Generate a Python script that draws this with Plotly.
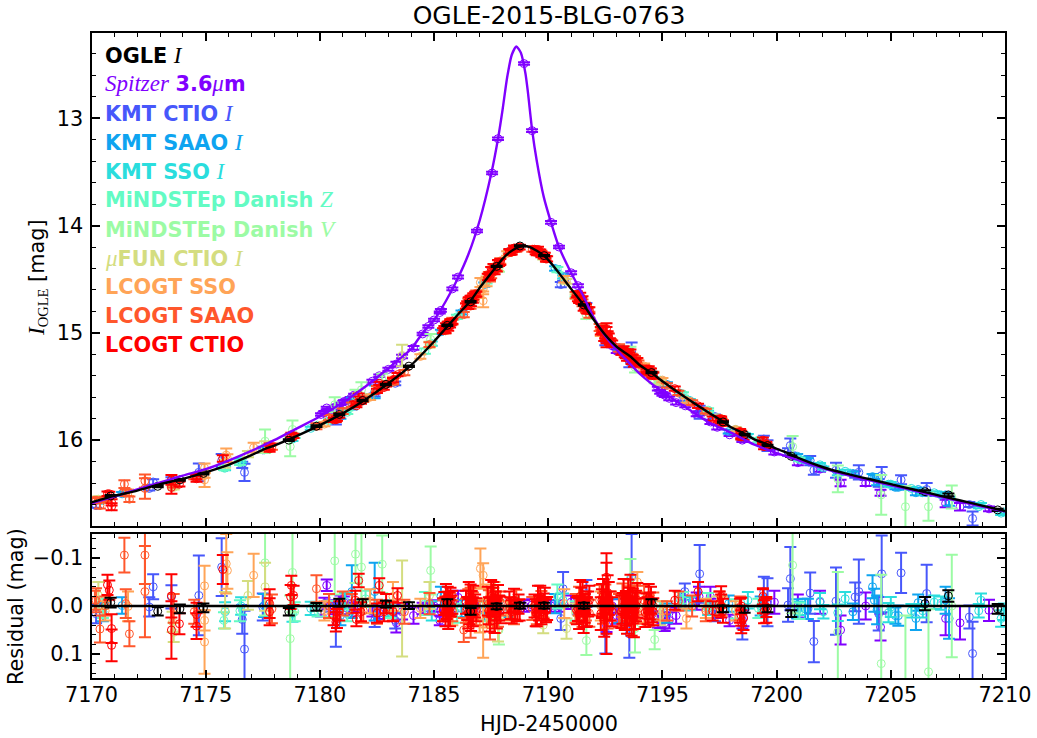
import plotly.graph_objects as go
from plotly.subplots import make_subplots

# Model curves
ogle_model_t = [7170,7171,7172,7173,7174,7175,7176,7177,7177.5,7178,7179,7180,7181,7182,7183,7184,7185,7185.5,7186,7186.6,7187,7187.7,7188,7188.3,7188.6,7188.9,7189.2,7189.5,7189.8,7190,7190.5,7191,7191.55,7192,7192.5,7193,7193.6,7194,7194.5,7195,7196,7197,7197.6,7198,7198.6,7199,7199.6,7200,7200.6,7201,7202,7203,7204,7205,7206,7207,7208,7209,7210]
ogle_model_mag = [16.58,16.52,16.47,16.41,16.36,16.30,16.23,16.14,16.09,16.05,15.96,15.86,15.75,15.62,15.47,15.30,15.08,14.96,14.84,14.70,14.58,14.39,14.31,14.25,14.21,14.19,14.20,14.235,14.28,14.32,14.45,14.59,14.74,14.88,15.02,15.13,15.22,15.30,15.37,15.45,15.60,15.74,15.82,15.88,15.94,15.99,16.04,16.08,16.13,16.17,16.25,16.31,16.36,16.41,16.46,16.51,16.56,16.61,16.66]
spitzer_model_t = [7170,7172,7174,7175,7176,7177,7178,7179,7180,7181,7182,7183,7183.5,7184,7184.5,7185,7185.5,7186,7186.5,7187,7187.5,7187.8,7188,7188.2,7188.4,7188.6,7188.8,7189,7189.1,7189.3,7189.5,7189.8,7190.12,7190.47,7191,7191.3,7191.5,7192,7192.5,7193,7193.5,7194,7195,7196,7197,7198,7199,7200,7201,7202,7203,7204,7205,7206,7207,7208,7209,7210]
spitzer_model_mag = [16.59,16.46,16.33,16.27,16.19,16.10,16.00,15.89,15.78,15.65,15.50,15.33,15.24,15.15,15.00,14.88,14.71,14.51,14.27,13.95,13.52,13.19,12.92,12.62,12.41,12.33,12.39,12.58,12.74,13.12,13.40,13.73,13.97,14.20,14.44,14.56,14.64,14.86,15.03,15.16,15.27,15.38,15.55,15.69,15.83,15.93,16.04,16.12,16.19,16.26,16.32,16.37,16.42,16.47,16.52,16.57,16.62,16.665]

# Data sets: time, magnitude, residual, error
spitzer_t = [7180.05,7180.2,7180.3,7180.45,7180.6,7180.75,7180.9,7181.05,7181.2,7181.35,7181.5,7182.3,7182.6,7183.0,7183.35,7183.6,7184.1,7184.5,7184.75,7185.0,7185.25,7185.3,7185.8,7186.05,7186.88,7187.54,7187.8,7188.94,7189.29,7190.12,7190.47,7191.0,7191.3,7192.55,7192.8,7193.0,7194.8,7194.9,7195.0,7195.1,7195.3,7195.6,7196.0,7196.5,7196.6,7197.1,7197.4,7197.94,7198.5,7198.55,7199.9,7200.93,7201.9,7202.8,7203.9,7204.55,7207.4,7208.03,7209.3]
spitzer_mag = [15.76,15.74,15.70,15.72,15.70,15.68,15.66,15.64,15.63,15.61,15.58,15.45,15.40,15.34,15.29,15.22,15.14,15.01,14.94,14.88,14.81,14.79,14.59,14.48,14.05,13.51,13.19,12.49,13.115,13.97,14.20,14.44,14.56,15.07,15.12,15.17,15.52,15.55,15.57,15.58,15.61,15.65,15.68,15.76,15.75,15.83,15.88,15.95,16.00,15.99,16.11,16.21,16.27,16.40,16.40,16.49,16.59,16.62,16.64]
spitzer_res = [0.01,-0.005,-0.043,0.0,0.005,0.0,-0.01,-0.008,0.005,0.01,0.0,0.01,0.015,0.01,0.035,0.012,0.02,0.005,0.005,0.0,0.03,0.01,0.0,-0.018,0.0,-0.002,0.002,0.0,-0.002,0.0,0.0,-0.008,0.005,0.04,0.0,0.02,0.028,0.03,0.03,0.035,0.03,0.02,-0.005,-0.01,-0.02,-0.02,0.005,0.03,0.03,0.025,-0.008,0.0,-0.008,0.05,0.0,0.044,0.026,0.035,0.009]
spitzer_err = [0.012,0.012,0.012,0.012,0.012,0.012,0.012,0.012,0.012,0.012,0.012,0.012,0.012,0.014,0.02,0.016,0.017,0.012,0.012,0.012,0.01,0.012,0.012,0.014,0.012,0.012,0.012,0.012,0.012,0.012,0.012,0.014,0.014,0.014,0.014,0.017,0.017,0.017,0.017,0.017,0.017,0.017,0.014,0.018,0.02,0.02,0.02,0.012,0.017,0.017,0.024,0.024,0.024,0.03,0.028,0.028,0.035,0.035,0.022]

kmt_ctio_t = [7170.2,7172.53,7172.7,7173.5,7174.7,7175.7,7176.6,7176.7,7177.5,7180.7,7182.4,7183.3,7190.55,7190.65,7191.67,7192.5,7193.55,7193.65,7195.98,7196.63,7197.3,7198.5,7199.44,7199.6,7200.5,7200.6,7201.47,7201.63,7202.6,7203.44,7203.6,7204.47,7204.6,7205.45,7206.57,7208.44,7208.58]
kmt_ctio_mag = [16.61,16.45,16.39,16.37,16.30,16.19,16.23,16.30,16.09,15.81,15.58,15.47,14.55,14.48,14.75,15.07,15.27,15.18,15.62,15.74,15.78,15.97,15.99,16.05,16.11,16.05,16.19,16.28,16.28,16.32,16.30,16.40,16.33,16.37,16.46,16.60,16.73]
kmt_ctio_res = [0.016,0.002,-0.04,-0.019,-0.022,-0.081,0.028,0.09,0.002,0.04,0.03,0.03,0.026,-0.036,-0.026,0.054,0.058,-0.06,-0.03,-0.067,0.012,0.04,-0.03,-0.008,-0.002,-0.057,-0.027,0.074,-0.01,-0.019,-0.03,0.016,-0.067,-0.069,-0.026,0.023,0.099]
kmt_ctio_err = [0.02,0.02,0.026,0.024,0.083,0.06,0.03,0.08,0.028,0.045,0.014,0.017,0.024,0.035,0.028,0.045,0.05,0.09,0.017,0.06,0.02,0.03,0.031,0.05,0.035,0.066,0.043,0.043,0.07,0.03,0.067,0.035,0.08,0.042,0.06,0.024,0.066]

kmt_saao_t = [7170.5,7171.34,7177.56,7180.9,7181.4,7182.4,7185.3,7186.2,7187.2,7188.3,7190.3,7193.1,7195.2,7197.9,7199.3,7200.9,7201.25,7201.37,7203.34,7204.2,7204.28,7204.4,7205.2,7205.33,7206.1,7206.2,7207.4,7207.55]
kmt_saao_mag = [16.56,16.50,16.09,15.78,15.66,15.55,14.99,14.81,14.55,14.24,14.40,15.14,15.48,15.92,16.02,16.15,16.18,16.19,16.31,16.34,16.35,16.39,16.44,16.44,16.49,16.46,16.51,16.57]
kmt_saao_res = [0.012,-0.001,-0.001,0.02,-0.03,-0.03,-0.02,0.005,0.01,0.006,-0.005,0.01,0.015,-0.005,0.0,0.006,0.006,0.006,0.012,-0.04,-0.012,0.008,0.02,0.02,0.026,-0.007,-0.012,0.026]
kmt_saao_err = [0.02,0.017,0.024,0.02,0.055,0.06,0.02,0.018,0.02,0.017,0.02,0.025,0.02,0.017,0.02,0.02,0.021,0.021,0.017,0.024,0.024,0.03,0.017,0.021,0.024,0.017,0.028,0.042]

kmt_sso_t = [7175.85,7176.55,7178.8,7179.6,7181.1,7183.0,7184.9,7190.65,7195.76,7196.2,7197.0,7198.74,7201.0,7201.9,7202.05,7202.68,7203.0,7204.9,7205.0,7205.9,7206.4,7206.9,7207.2,7208.85,7208.95,7209.83,7209.95]
kmt_sso_mag = [16.26,16.19,15.99,15.89,15.73,15.47,15.10,14.48,15.56,15.63,15.74,15.96,16.18,16.23,16.26,16.31,16.29,16.41,16.41,16.45,16.49,16.49,16.51,16.62,16.60,16.68,16.67]
kmt_sso_res = [0.012,0.0,0.016,0.005,-0.01,0.005,0.01,-0.012,-0.015,-0.005,0.005,-0.012,0.005,-0.01,0.012,0.014,-0.015,0.014,0.002,0.01,0.01,-0.008,-0.006,0.01,-0.012,0.026,0.012]
kmt_sso_err = [0.02,0.018,0.017,0.014,0.017,0.017,0.02,0.014,0.014,0.014,0.014,0.017,0.014,0.017,0.014,0.017,0.014,0.02,0.021,0.014,0.014,0.014,0.014,0.014,0.014,0.017,0.017]

danish_z_t = [7170.5,7175.8,7176.5,7178.9,7179.9,7180.4,7181.2,7182.0,7183.1,7184.6,7186.0,7187.3,7188.5,7190.4,7191.2,7193.4,7194.9,7195.9,7197.0,7198.2,7199.2,7201.0]
danish_z_mag = [16.56,16.26,16.21,15.96,15.86,15.82,15.74,15.60,15.46,15.17,14.85,14.52,14.21,14.41,14.64,15.18,15.44,15.57,15.72,15.90,16.00,16.18]
danish_z_res = [0.005,0.03,0.01,0.012,0.01,0.006,0.015,-0.015,0.01,-0.005,0.015,0.012,-0.006,-0.02,0.01,0.0,0.01,-0.012,-0.01,0.006,0.005,0.01]
danish_z_err = [0.02,0.017,0.022,0.02,0.012,0.017,0.017,0.017,0.015,0.024,0.02,0.02,0.012,0.025,0.02,0.03,0.02,0.017,0.017,0.02,0.02,0.017]

danish_v_t = [7177.6,7178.7,7178.8,7180.65,7181.56,7181.82,7182.73,7184.85,7187.84,7191.67,7193.6,7193.8,7194.66,7200.7,7202.68,7204.58,7205.64,7206.65,7207.67]
danish_v_mag = [16.01,16.06,15.90,15.67,15.59,15.53,15.44,15.06,14.40,14.84,15.17,15.32,15.45,16.06,16.36,16.51,16.62,16.62,16.53]
danish_v_res = [-0.09,0.068,-0.07,-0.094,-0.108,-0.081,-0.087,-0.074,0.05,0.072,-0.058,0.047,0.07,-0.085,0.054,0.12,0.21,0.137,0.0]
danish_v_err = [0.11,0.09,0.083,0.07,0.06,0.07,0.06,0.05,0.03,0.03,0.04,0.05,0.02,0.1,0.125,0.185,0.19,0.13,0.107]

mufun_t = [7170.3,7173.55,7173.6,7175.85,7176.85,7177.6,7183.6,7184.8,7187.66,7187.8,7189.78,7190.8,7191.2,7194.9,7197.4]
mufun_mag = [16.55,16.41,16.44,16.22,16.13,16.06,15.21,15.11,14.38,14.40,14.30,14.52,14.66,15.46,15.79]
mufun_res = [-0.022,0.033,0.055,0.009,-0.022,-0.04,0.005,-0.022,-0.036,0.05,0.04,0.047,0.015,0.02,0.0]
mufun_err = [0.028,0.021,0.02,0.038,0.03,0.05,0.1,0.028,0.014,0.024,0.017,0.021,0.02,0.02,0.02]

lcogt_sso_t = [7170.6,7171.6,7174.95,7174.95,7174.95,7175.9,7175.95,7177.1,7180.2,7182.2,7183.2,7184.4,7185.8,7187.03,7187.15,7187.15,7187.3,7187.0,7188.2,7190.7,7192.3,7193.9,7194.2,7196.05,7195.0,7196.9,7197.6,7198.2]
lcogt_sso_mag = [16.55,16.49,16.26,16.33,16.37,16.14,16.17,16.07,15.85,15.60,15.44,15.22,14.89,14.53,14.59,14.70,14.52,14.64,14.26,14.50,15.00,15.26,15.31,15.63,15.44,15.73,15.82,15.90]
lcogt_sso_res = [0.01,0.001,-0.042,0.03,0.075,-0.088,-0.074,-0.064,0.01,-0.01,-0.02,0.005,0.01,-0.078,-0.064,0.047,0.0,0.02,0.01,-0.005,0.0,-0.05,0.01,0.026,0.01,0.005,0.0,0.01]
lcogt_sso_err = [0.02,0.031,0.042,0.021,0.066,0.062,0.038,0.045,0.02,0.025,0.03,0.02,0.03,0.042,0.025,0.061,0.045,0.035,0.02,0.03,0.03,0.021,0.025,0.021,0.02,0.02,0.02,0.02]

lcogt_saao_t = [7170.15,7170.2,7170.37,7170.6,7171.44,7171.5,7171.66,7172.34,7172.34,7173.6,7174.5,7177.9,7179.85,7180.4,7181.0,7181.4,7181.9,7182.5,7183.2,7183.7,7184.8,7185.4,7185.5,7185.6,7185.7,7185.8,7186.3,7186.4,7186.5,7186.6,7186.6,7186.7,7186.85,7187.45,7187.4,7187.5,7187.6,7187.7,7187.8,7187.9,7188.3,7188.5,7188.6,7189.3,7189.5,7189.7,7189.9,7191.2,7191.35,7191.5,7191.65,7191.8,7192.25,7192.4,7192.5,7192.6,7192.75,7193.1,7193.25,7193.4,7193.5,7193.65,7193.8,7193.95,7194.2,7194.4,7194.6,7195.2,7195.7,7196.3,7196.9,7197.5,7198.4]
lcogt_saao_mag = [16.56,16.56,16.61,16.55,16.41,16.49,16.55,16.38,16.45,16.41,16.34,16.06,15.87,15.79,15.73,15.67,15.62,15.52,15.46,15.37,15.11,14.98,14.98,14.92,14.90,14.90,14.83,14.75,14.71,14.75,14.69,14.67,14.63,14.49,14.46,14.46,14.41,14.39,14.35,14.33,14.25,14.22,14.22,14.22,14.24,14.26,14.31,14.65,14.68,14.72,14.78,14.83,14.95,14.98,15.02,15.03,15.09,15.14,15.17,15.19,15.20,15.23,15.25,15.29,15.33,15.37,15.39,15.49,15.56,15.65,15.73,15.81,15.92]
lcogt_saao_res = [-0.012,-0.012,0.048,0.0,-0.106,-0.005,0.058,-0.106,-0.03,0.005,0.012,0.006,-0.036,0.0,-0.005,-0.005,0.01,0.012,0.01,0.012,-0.005,0.01,0.005,-0.005,-0.002,0.01,0.05,0.01,-0.005,0.04,-0.01,0.0,0.015,0.04,-0.005,0.01,-0.01,0.0,0.015,-0.005,0.005,0.012,-0.01,0.005,0.012,-0.005,0.008,0.005,-0.01,0.012,0.0,0.015,-0.012,0.005,-0.01,0.015,0.0,0.01,-0.012,0.012,-0.005,0.015,-0.008,0.005,-0.012,0.01,0.0,0.01,-0.01,0.0,0.01,-0.005,0.005]
lcogt_saao_err = [0.02,0.025,0.028,0.02,0.036,0.03,0.026,0.06,0.095,0.03,0.025,0.03,0.028,0.025,0.025,0.02,0.025,0.025,0.02,0.025,0.022,0.022,0.025,0.025,0.025,0.022,0.025,0.025,0.03,0.026,0.028,0.028,0.025,0.03,0.028,0.03,0.028,0.03,0.028,0.025,0.024,0.026,0.024,0.024,0.026,0.026,0.024,0.03,0.03,0.032,0.03,0.028,0.032,0.032,0.035,0.032,0.03,0.035,0.035,0.036,0.036,0.035,0.035,0.032,0.03,0.032,0.028,0.02,0.02,0.022,0.022,0.025,0.025]

lcogt_ctio_t = [7170.7,7170.78,7170.88,7170.88,7173.5,7173.5,7173.85,7174.6,7174.6,7175.75,7177.8,7177.8,7178.75,7178.72,7178.85,7180.7,7180.75,7181.7,7181.6,7182.6,7182.8,7183.4,7185.45,7185.55,7185.65,7185.75,7186.45,7186.55,7186.65,7186.8,7187.4,7187.55,7187.7,7187.85,7188.35,7188.55,7188.7,7189.4,7189.6,7189.8,7189.95,7191.3,7191.45,7191.6,7191.75,7192.35,7192.5,7192.55,7192.55,7192.7,7193.25,7193.4,7193.55,7193.7,7193.85,7194.3,7194.45,7194.55,7195.54,7196.56,7197.2,7197.57,7197.57,7198.45,7198.45,7198.45,7199.4,7199.45,7199.55,
    7185.5,7185.6,7185.7,7185.4,7185.8,7185.52,7185.62,7185.72,
    7186.5,7186.6,7186.7,7186.4,7186.85,7186.52,7186.62,7186.72,
    7187.45,7187.6,7187.75,7187.35,7187.9,7187.5,7187.65,7187.8,
    7188.4,7188.5,7188.65,7188.3,7188.75,
    7189.45,7189.55,7189.7,7189.85,7189.5,7189.65,7189.9,
    7191.35,7191.5,7191.65,7191.8,7191.4,7191.55,7191.7,7191.25,
    7192.3,7192.4,7192.55,7192.65,7192.8,7192.45,7192.6,7192.35,
    7193.3,7193.45,7193.6,7193.75,7193.9,7193.35,7193.5,7193.65,7193.8,7193.2,
    7194.25,7194.4,7194.6,7194.35,7194.5,
    7180.6,7180.85,7181.55,7181.8,7182.5,7182.9,7183.2,
    7197.5,7197.65,7198.4,7198.55,7199.4,7199.55]
lcogt_ctio_mag = [16.50,16.50,16.58,16.62,16.37,16.44,16.41,16.34,16.36,16.17,16.06,16.08,15.95,15.97,15.96,15.81,15.80,15.58,15.68,15.47,15.51,15.39,14.96,14.95,14.92,14.90,14.73,14.72,14.68,14.64,14.48,14.42,14.39,14.35,14.25,14.22,14.20,14.22,14.25,14.28,14.31,14.68,14.70,14.75,14.79,14.98,15.02,14.96,15.04,15.08,15.17,15.20,15.22,15.24,15.27,15.34,15.36,15.39,15.52,15.68,15.80,15.80,15.82,15.96,15.97,15.93,16.02,16.06,16.05,
    14.97,14.93,14.92,14.98,14.89,14.94,14.95,14.90,
    14.745,14.685,14.69,14.75,14.64,14.70,14.72,14.66,
    14.47,14.39,14.395,14.48,14.34,14.42,14.42,14.35,
    14.245,14.21,14.21,14.24,14.20,
    14.24,14.225,14.27,14.28,14.25,14.25,14.31,
    14.69,14.69,14.76,14.79,14.66,14.76,14.79,14.64,
    14.98,14.98,15.06,15.04,15.10,15.04,15.02,14.97,
    15.16,15.22,15.195,15.275,15.27,15.19,15.195,15.25,15.27,15.17,
    15.35,15.34,15.40,15.36,15.36,
    15.81,15.77,15.66,15.64,15.54,15.48,15.44,
    15.80,15.84,15.92,15.97,16.00,16.04]
lcogt_ctio_res = [-0.044,-0.033,0.047,0.082,-0.021,0.05,0.037,0.018,0.042,-0.076,-0.005,0.012,-0.043,-0.019,-0.022,0.033,0.026,-0.053,0.028,-0.043,0.012,-0.022,-0.005,0.005,-0.005,0.0,0.005,0.012,-0.005,0.0,0.01,-0.008,0.0,0.004,0.005,0.008,-0.004,0.0,0.004,0.0,0.005,0.005,-0.008,0.005,-0.004,-0.005,0.0,-0.06,0.005,0.0,0.005,0.005,0.0,0.0,0.0,0.0,0.0,0.01,-0.012,-0.03,0.01,-0.02,0.0,0.02,0.033,0.0,-0.02,0.012,0.002,
    0.012,-0.012,0.012,0.008,-0.008,-0.016,0.018,-0.01,
    0.015,-0.015,0.012,-0.008,0.008,-0.018,0.02,-0.012,
    0.018,-0.018,0.015,-0.01,0.008,-0.02,0.022,-0.014,
    0.012,-0.012,0.01,-0.008,0.008,
    0.014,-0.014,0.012,-0.012,0.016,-0.016,0.01,
    0.016,-0.018,0.014,-0.012,-0.02,0.022,0.012,0.01,
    0.016,-0.02,0.022,-0.016,0.012,0.028,-0.028,-0.012,
    -0.02,0.018,-0.025,0.025,-0.012,0.012,-0.015,0.022,0.01,0.012,
    0.014,-0.016,0.012,0.01,-0.012,
    0.02,0.01,-0.012,0.012,0.015,-0.005,0.012,
    -0.005,0.01,0.01,0.025,-0.01,0.01]
lcogt_ctio_err = [0.021,0.02,0.03,0.033,0.045,0.06,0.022,0.025,0.027,0.03,0.03,0.028,0.02,0.025,0.02,0.02,0.02,0.014,0.014,0.015,0.02,0.015,0.024,0.022,0.024,0.022,0.024,0.026,0.026,0.024,0.028,0.03,0.03,0.026,0.022,0.02,0.02,0.024,0.026,0.026,0.024,0.026,0.03,0.03,0.026,0.03,0.03,0.05,0.095,0.03,0.032,0.036,0.038,0.036,0.032,0.026,0.028,0.024,0.02,0.02,0.02,0.021,0.024,0.021,0.024,0.017,0.017,0.024,0.021,
    0.03,0.028,0.03,0.024,0.024,0.03,0.03,0.028,
    0.032,0.03,0.03,0.024,0.024,0.032,0.032,0.03,
    0.035,0.032,0.032,0.03,0.028,0.034,0.034,0.03,
    0.024,0.024,0.022,0.022,0.022,
    0.028,0.028,0.026,0.026,0.026,0.026,0.024,
    0.032,0.032,0.03,0.03,0.034,0.034,0.03,0.028,
    0.034,0.036,0.036,0.034,0.03,0.036,0.036,0.034,
    0.036,0.04,0.04,0.04,0.036,0.038,0.04,0.04,0.038,0.034,
    0.03,0.03,0.028,0.028,0.028,
    0.02,0.02,0.02,0.02,0.02,0.02,0.02,
    0.025,0.025,0.025,0.025,0.025,0.025]

ogle_t = [7170.84,7172.9,7173.87,7174.9,7178.64,7179.85,7180.85,7181.87,7182.89,7183.9,7185.58,7186.6,7187.74,7188.76,7189.82,7191.56,7194.52,7197.65,7198.6,7199.6,7200.64,7206.5,7207.52,7209.68]
ogle_mag = [16.52,16.43,16.37,16.31,16.00,15.87,15.76,15.63,15.48,15.31,14.93,14.71,14.38,14.19,14.28,14.74,15.37,15.83,15.95,16.05,16.15,16.48,16.51,16.65]
ogle_res = [-0.007,0.011,0.006,0.004,0.012,0.002,-0.007,-0.007,-0.004,-0.001,-0.007,0.011,0.001,-0.001,-0.001,-0.001,-0.007,0.006,0.007,0.006,0.016,-0.005,-0.021,0.006]
ogle_err = [0.01,0.009,0.009,0.009,0.008,0.008,0.008,0.007,0.007,0.007,0.007,0.007,0.006,0.006,0.006,0.006,0.007,0.007,0.007,0.007,0.007,0.014,0.012,0.01]

zero_t = [7170, 7210]
zero_res = [0, 0]

res_ticks = [-0.1, 0.0, 0.1]
res_tick_labels = ['\u22120.1', '0.0', '0.1']

SERIF = "Liberation Serif"
SANS = "DejaVu Sans"
FS = 20.8

def mathit(s):
    return '<span style="font-family:%s;font-size:23px"><i>%s</i></span>' % (SERIF, s)

datasets = [
    ('Spitzer', '#8000ff', spitzer_t, spitzer_mag, spitzer_res, spitzer_err),
    ('KMT CTIO', '#4757fb', kmt_ctio_t, kmt_ctio_mag, kmt_ctio_res, kmt_ctio_err),
    ('KMT SAAO', '#0ea4f0', kmt_saao_t, kmt_saao_mag, kmt_saao_res, kmt_saao_err),
    ('KMT SSO', '#2adddd', kmt_sso_t, kmt_sso_mag, kmt_sso_res, kmt_sso_err),
    ('Danish Z', '#63fbc3', danish_z_t, danish_z_mag, danish_z_res, danish_z_err),
    ('Danish V', '#9cfba4', danish_v_t, danish_v_mag, danish_v_res, danish_v_err),
    ('muFUN', '#d4dd80', mufun_t, mufun_mag, mufun_res, mufun_err),
    ('LCOGT SSO', '#ffa457', lcogt_sso_t, lcogt_sso_mag, lcogt_sso_res, lcogt_sso_err),
    ('LCOGT SAAO', '#ff572c', lcogt_saao_t, lcogt_saao_mag, lcogt_saao_res, lcogt_saao_err),
    ('LCOGT CTIO', '#ff0000', lcogt_ctio_t, lcogt_ctio_mag, lcogt_ctio_res, lcogt_ctio_err),
    ('OGLE', '#000000', ogle_t, ogle_mag, ogle_res, ogle_err),
]

legend_labels = [
    ('#000000', '<b>OGLE</b> ' + mathit('I')),
    ('#8000ff', mathit('Spitzer') + ' <b>3.6</b>' + mathit('μ') + '<b>m</b>'),
    ('#4757fb', '<b>KMT CTIO</b> ' + mathit('I')),
    ('#0ea4f0', '<b>KMT SAAO</b> ' + mathit('I')),
    ('#2adddd', '<b>KMT SSO</b> ' + mathit('I')),
    ('#63fbc3', '<b>MiNDSTEp Danish</b> ' + mathit('Z')),
    ('#9cfba4', '<b>MiNDSTEp Danish</b> ' + mathit('V')),
    ('#d4dd80', mathit('μ') + '<b>FUN CTIO</b> ' + mathit('I')),
    ('#ffa457', '<b>LCOGT SSO</b>'),
    ('#ff572c', '<b>LCOGT SAAO</b>'),
    ('#ff0000', '<b>LCOGT CTIO</b>'),
]

W, H = 1037, 738

def px(x):
    return x / W

def py(y):
    return 1 - y / H

fig = make_subplots(rows=2, cols=1, shared_xaxes=True)

# Data points in both panels
for name, color, t, mag, res, err in datasets:
    for row, y in ((1, mag), (2, res)):
        fig.add_trace(go.Scatter(
            x=t, y=y, mode='markers', name=name, showlegend=False,
            marker=dict(symbol='circle-open', size=8, color=color, line=dict(width=1, color=color)),
            error_y=dict(type='data', array=err, color=color, thickness=2, width=6),
        ), row=row, col=1)

# Model lines on top
fig.add_trace(go.Scatter(x=spitzer_model_t, y=spitzer_model_mag, mode='lines', showlegend=False,
                         line=dict(color='#8000ff', width=2.4, shape='spline', smoothing=0.6)), row=1, col=1)
fig.add_trace(go.Scatter(x=ogle_model_t, y=ogle_model_mag, mode='lines', showlegend=False,
                         line=dict(color='#000000', width=2.4, shape='spline', smoothing=0.6)), row=1, col=1)
fig.add_trace(go.Scatter(x=zero_t, y=zero_res, mode='lines', showlegend=False,
                         line=dict(color='#000000', width=2.4)), row=2, col=1)

axis_style = dict(
    showline=True, linecolor='black', linewidth=2, mirror='allticks', ticks='inside', automargin=False,
    tickcolor='black', tickwidth=1.5, ticklen=8, showgrid=False, zeroline=False,
    tickfont=dict(family=SANS, size=FS, color='black'),
)

fig.update_xaxes(range=[7170, 7210], domain=[px(91.5), px(1005)], tick0=7170, dtick=5,
                 minor=dict(dtick=1, ticks='inside', ticklen=4, tickwidth=1, tickcolor='black', showgrid=False),
                 **axis_style)
fig.update_xaxes(showticklabels=False, row=1, col=1)
fig.update_xaxes(showticklabels=True, ticklabelstandoff=-3, row=2, col=1)
fig.update_yaxes(range=[16.80, 12.205], domain=[py(526), py(33)], tick0=13, dtick=1, ticklabelstandoff=2,
                 minor=dict(dtick=0.2, ticks='inside', ticklen=4, tickwidth=1, tickcolor='black', showgrid=False),
                 row=1, col=1, **axis_style)
fig.update_yaxes(range=[0.15, -0.15], domain=[py(678), py(534)], tickvals=res_ticks, ticktext=res_tick_labels, ticklabelstandoff=2,
                 minor=dict(dtick=0.02, ticks='inside', ticklen=4, tickwidth=1, tickcolor='black', showgrid=False),
                 row=2, col=1, **axis_style)

annotations = []
for i, (color, text) in enumerate(legend_labels):
    annotations.append(dict(
        x=px(103), y=py(55 + i * 29), xref='paper', yref='paper', xanchor='left', yanchor='middle',
        text=text, showarrow=False, font=dict(family=SANS, size=FS, color=color),
    ))
annotations.append(dict(
    x=px(38), y=py(278), xref='paper', yref='paper', textangle=-90, showarrow=False,
    xanchor='center', yanchor='middle',
    text=mathit('I') + '<sub><span style="font-family:%s">OGLE</span></sub> [mag]' % SERIF,
    font=dict(family=SANS, size=FS, color='black'),
))
annotations.append(dict(
    x=px(16), y=py(607), xref='paper', yref='paper', textangle=-90, showarrow=False,
    xanchor='center', yanchor='middle',
    text='Residual (mag)', font=dict(family=SANS, size=FS, color='black'),
))
annotations.append(dict(
    x=px(549), y=py(724), xref='paper', yref='paper', showarrow=False,
    xanchor='center', yanchor='middle',
    text='HJD-2450000', font=dict(family=SANS, size=FS, color='black'),
))

fig.update_layout(
    width=W, height=H, margin=dict(l=0, r=0, t=0, b=0),
    paper_bgcolor='white', plot_bgcolor='white', showlegend=False,
    title=dict(text='OGLE-2015-BLG-0763', x=px(549), y=py(15), xanchor='center', yanchor='middle',
               font=dict(family=SANS, size=25, color='black')),
    annotations=annotations,
)

# Drop the page's default body margin so the figure sits at the window corner
fig.write_html("out.html", config={'displayModeBar': False},
               post_script="document.body.style.margin='0';document.body.style.overflow='hidden';")
